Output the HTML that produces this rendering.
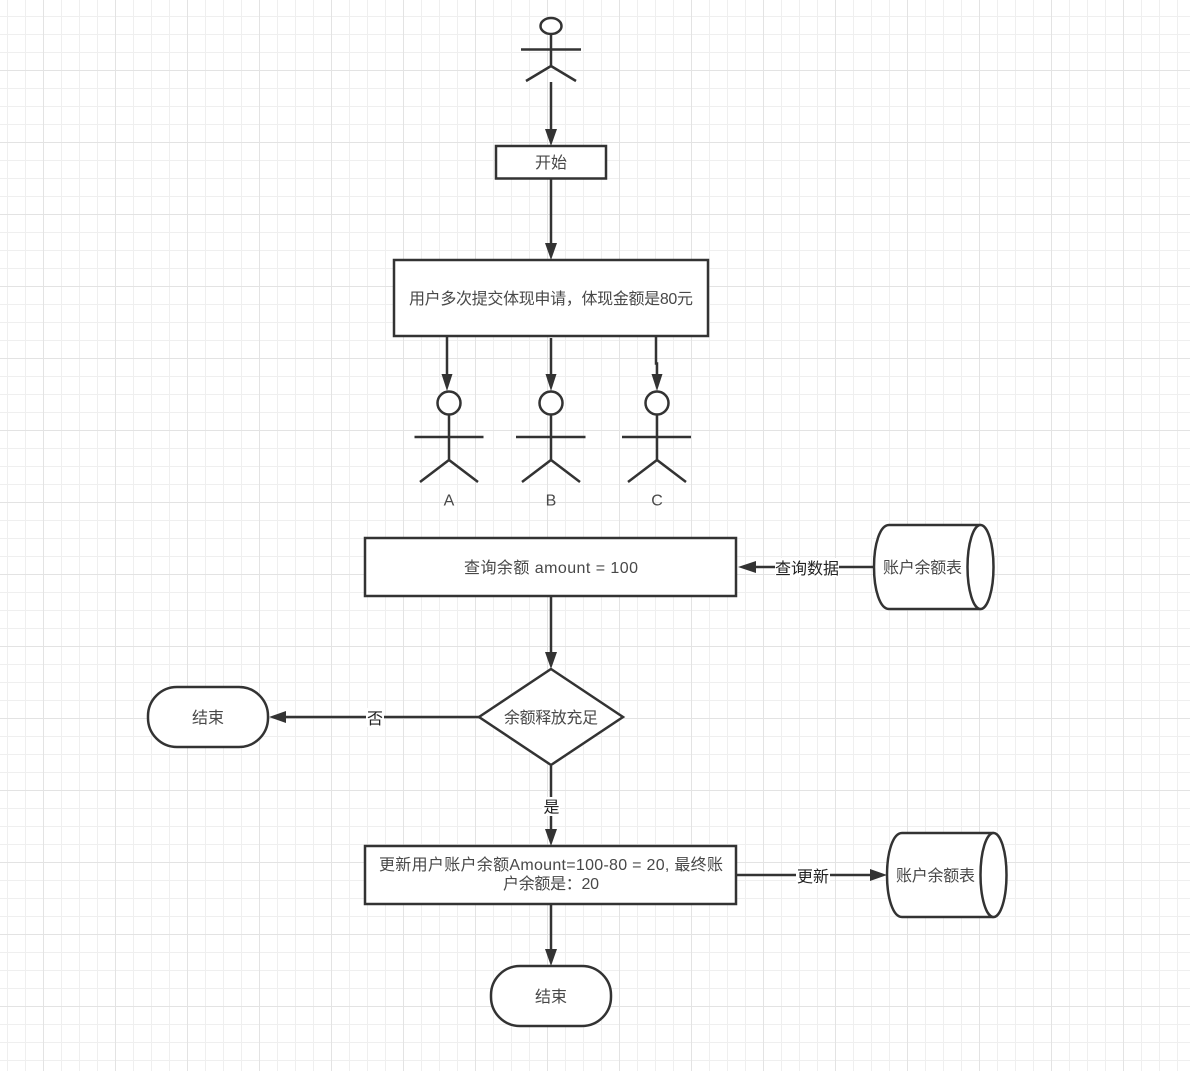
<!DOCTYPE html>
<html><head><meta charset="utf-8"><style>
html,body{margin:0;padding:0;background:#fff}
body{width:1190px;height:1071px;overflow:hidden}
svg{display:block}
text{font-family:"Liberation Sans","Noto Sans CJK SC",sans-serif;font-size:16px;fill:#484848;text-anchor:middle}
.s{fill:#fff;stroke:#333;stroke-width:2.5}
.l{fill:none;stroke:#333;stroke-width:2.5}
.a{fill:#333;stroke:none}
.lb{fill:#222}
</style></head><body>
<svg width="1190" height="1071" viewBox="0 0 1190 1071" xmlns="http://www.w3.org/2000/svg">
<defs>
<pattern id="g" x="7" y="16" width="18" height="18" patternUnits="userSpaceOnUse"><path d="M.5 0V18M0 .5H18" fill="none" stroke="#efefef" stroke-width="1"/></pattern>
<pattern id="G" x="43" y="70" width="72" height="72" patternUnits="userSpaceOnUse"><path d="M.5 0V72M0 .5H72" fill="none" stroke="#e3e3e3" stroke-width="1"/></pattern>
</defs>
<rect width="1190" height="1071" fill="#fff"/>
<rect width="1190" height="1071" fill="url(#g)"/>
<rect width="1190" height="1071" fill="url(#G)"/>

<!-- top actor -->
<ellipse class="s" cx="551" cy="26" rx="10.5" ry="8"/>
<path class="l" d="M551 34V66M521 49.500H581M526 81L551 66L576 81"/>
<path class="l" d="M551 82V130"/><path class="a" d="M551 146L545 129H557Z"/>

<rect class="s" x="496" y="146" width="110" height="32.500"/>
<text x="551" y="168">开始</text>
<path class="l" d="M551 179V244"/><path class="a" d="M551 260L545 243H557Z"/>

<rect class="s" x="394" y="260" width="314" height="76"/>
<text x="551" y="304" textLength="284">用户多次提交体现申请，体现金额是80元</text>

<path class="l" d="M447 337V375"/><path class="a" d="M447 391L441.500 374H452.500Z"/>
<path class="l" d="M551 338V375"/><path class="a" d="M551 391L545.500 374H556.500Z"/>
<path class="l" d="M656 337V363.500H657V375"/><path class="a" d="M657 391L651.500 374H662.500Z"/>

<!-- actors -->
<circle class="s" cx="449" cy="403" r="11.500"/>
<path class="l" d="M449 415V460M414.500 437H483.500M420 482L449 460L478 482"/>
<circle class="s" cx="551" cy="403" r="11.500"/>
<path class="l" d="M551 415V460M516 437H585.500M522 482L551 460L580 482"/>
<circle class="s" cx="657" cy="403" r="11.500"/>
<path class="l" d="M657 415V460M622 437H691M628 482L657 460L686 482"/>
<text x="449" y="505.500">A</text><text x="551" y="505.500">B</text><text x="657" y="505.500">C</text>

<rect class="s" x="365" y="538" width="371" height="58"/>
<text x="551" y="573" textLength="174">查询余额 amount = 100</text>

<!-- query arrow -->
<path class="l" d="M753 567H873"/><path class="a" d="M738 567L756 561V573Z"/>
<rect x="775" y="558" width="64" height="19" fill="#fff"/>
<text class="lb" x="807" y="574">查询数据</text>

<!-- cylinder 1 -->
<path class="s" d="M889 525H980C987 525 993 544 993 567C993 590 987 609 980 609H889C880 609 874 590 874 567C874 544 880 525 889 525Z"/>
<ellipse class="s" cx="980.500" cy="567" rx="13" ry="42"/>
<text x="922.500" y="573" textLength="79">账户余额表</text>

<path class="l" d="M551 597V653"/><path class="a" d="M551 669L545 652H557Z"/>

<!-- diamond -->
<path class="s" d="M551 669L623 717L551 765L479 717Z"/>
<text x="551" y="723" textLength="94">余额释放充足</text>

<!-- no -->
<path class="l" d="M284 717H479"/><path class="a" d="M269 717L286 711V723Z"/>
<rect x="366" y="708" width="18" height="19" fill="#fff"/>
<text class="lb" x="375" y="724">否</text>

<rect class="s" x="148" y="687" width="120" height="60" rx="29" ry="29"/>
<text x="208" y="723">结束</text>

<!-- yes -->
<path class="l" d="M551 766V830"/><path class="a" d="M551 846L545 829H557Z"/>
<rect x="542" y="797" width="18" height="19" fill="#fff"/>
<text class="lb" x="551.500" y="812.500">是</text>

<rect class="s" x="365" y="846" width="371" height="58"/>
<text x="551" y="870" textLength="344">更新用户账户余额Amount=100-80 = 20, 最终账</text>
<text x="551" y="889" textLength="96">户余额是：20</text>

<!-- update -->
<path class="l" d="M737 875H872"/><path class="a" d="M887 875L870 869V881Z"/>
<rect x="796" y="866" width="34" height="19" fill="#fff"/>
<text class="lb" x="813" y="882">更新</text>

<!-- cylinder 2 -->
<path class="s" d="M902 833H993C1000 833 1006 852 1006 875C1006 898 1000 917 993 917H902C893 917 887 898 887 875C887 852 893 833 902 833Z"/>
<ellipse class="s" cx="993.500" cy="875" rx="13" ry="42"/>
<text x="935.500" y="881" textLength="79">账户余额表</text>

<path class="l" d="M551 905V950"/><path class="a" d="M551 966L545 949H557Z"/>

<rect class="s" x="491" y="966" width="120" height="60" rx="29" ry="29"/>
<text x="551" y="1002">结束</text>
</svg>
</body></html>
